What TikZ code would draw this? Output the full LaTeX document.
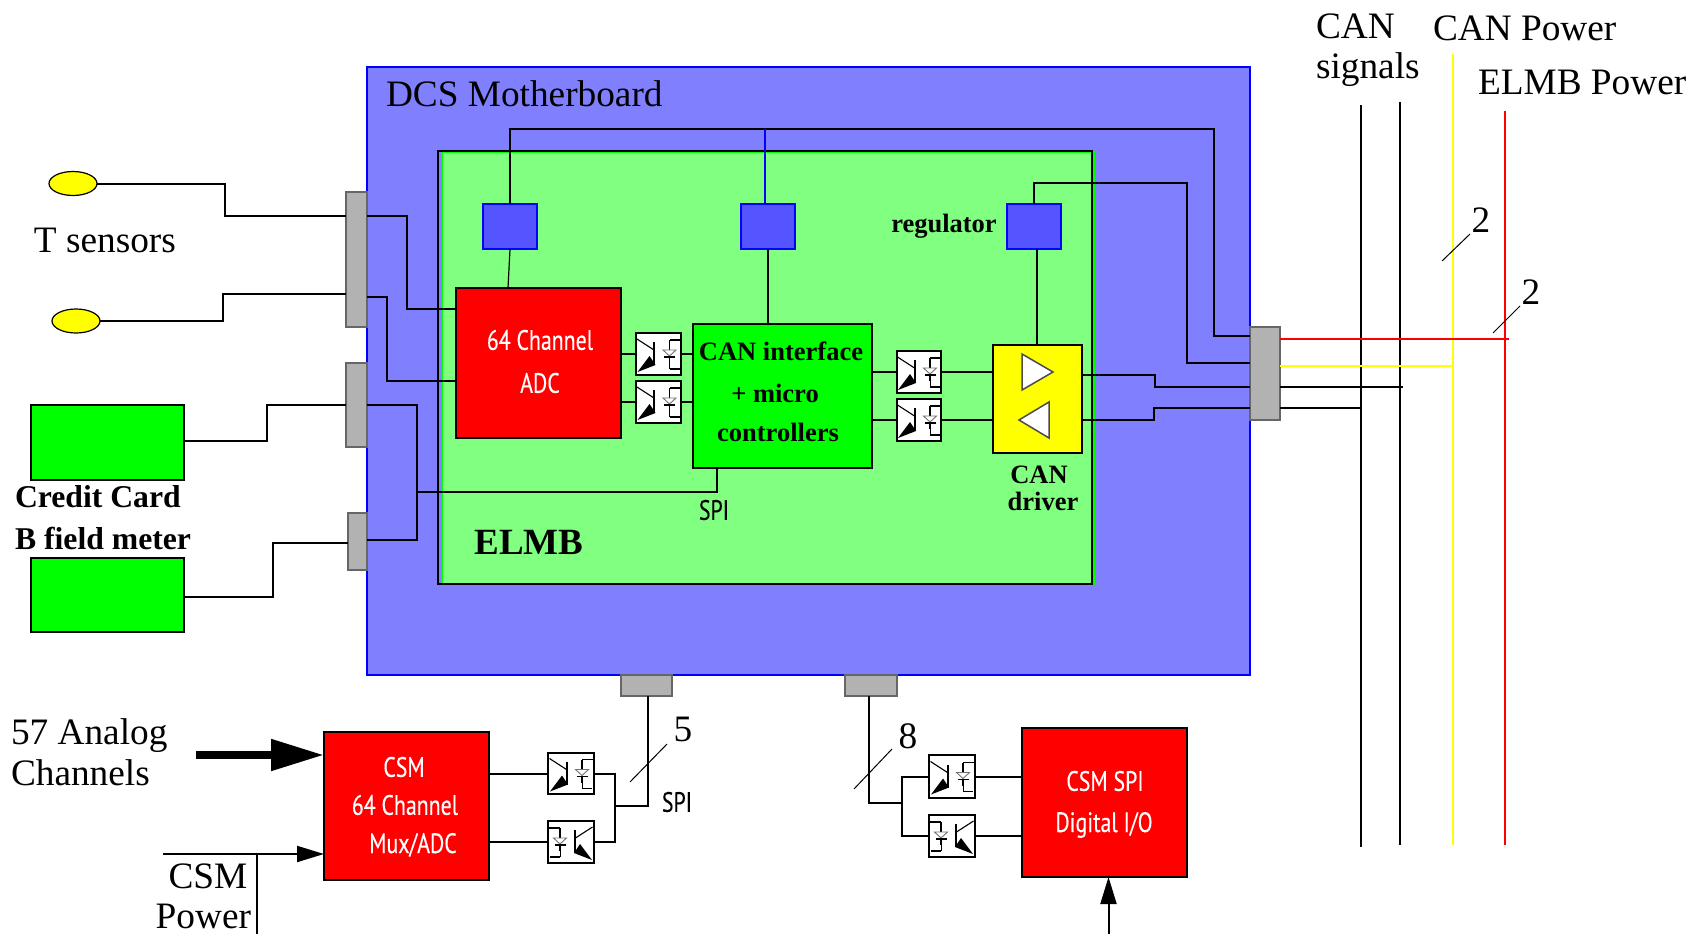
\documentclass[tikz,border=0pt]{standalone}
\usepackage{fontspec}
\setmainfont{Liberation Serif}
\newfontfamily\cond[FakeStretch=0.78,FakeBold=0.25]{PT Sans}
\usetikzlibrary{arrows.meta,shapes.geometric}
\definecolor{mbfill}{RGB}{128,128,255}
\definecolor{regfill}{RGB}{85,85,255}
\definecolor{elmbfill}{RGB}{128,255,128}
\definecolor{fullgreen}{RGB}{0,255,0}
\definecolor{fullyellow}{RGB}{255,255,0}
\definecolor{conn}{RGB}{178,178,178}
\definecolor{connb}{RGB}{102,102,102}
\tikzset{
  every node/.style={inner sep=0pt,outer sep=0pt},
  wire/.style={line width=2pt,black,line join=miter},
  thinw/.style={line width=1.2pt,black},
  connbox/.style={fill=conn,draw=connb,line width=2pt},
  regbox/.style={fill=regfill,draw=blue,line width=2pt},
  redbox/.style={fill=red,draw=black,line width=2pt},
  greenbox/.style={fill=fullgreen,draw=black,line width=1.5pt},
  optobox/.style={fill=white,draw=black,line width=2pt},
  big/.style={font=\fontsize{37.3}{40}\selectfont},
  bold32/.style={font=\fontsize{31.7}{34}\selectfont\bfseries},
  bold26/.style={font=\fontsize{26.5}{30}\selectfont\bfseries},
  condw/.style={font=\fontsize{28}{30}\selectfont\cond,white},
  condb/.style={font=\fontsize{28}{30}\selectfont\cond,black},
  condsm/.style={font=\fontsize{28}{30}\selectfont\cond,white},
}
\newcommand\mybox[6]{%
  \pgfmathsetmacro\bxw{#5-#3}\pgfmathsetmacro\bxh{#6-#4}%
  \pgfmathsetmacro\bxx{(#3+#5)/2}\pgfmathsetmacro\bxy{(#4+#6)/2}%
  \node[#2,rectangle,minimum width=\bxw pt,minimum height=\bxh pt] (#1) at (\bxx,\bxy) {};}
\newcommand\opto[6]{% name, flip(1/-1), x1,y1,x2,y2
  \mybox{#1}{optobox}{#3}{#4}{#5}{#6}
  \begin{scope}[shift={(#1.center)},xscale=#2]
    \draw[line width=1.1pt] (-21.5,-15) -- (-4.5,-4);
    \draw[line width=2pt] (-4.2,-12) -- (-4.2,11);
    \fill[black] (-21,18) -- (-9,2) -- (-3,11) -- cycle;
    \draw[line width=1.2pt] (11,-14) -- (11,-4);
    \draw[line width=1.8pt] (11,2) -- (11,9);
    \draw[line width=0.8pt] (11,9) -- (11,15);
    \draw[line width=1.3pt] (11,-14) -- (22,-14);
    \draw[line width=1.3pt] (11,15) -- (21,15);
    \filldraw[fill=white,draw=black!55,line width=0.9pt] (4.5,-4) -- (17.5,-4) -- (11,2) -- cycle;
    \draw[line width=1.6pt] (5.5,3) -- (16.5,3);
  \end{scope}}
\begin{document}
\begin{tikzpicture}[x=1pt,y=-1pt]
\useasboundingbox (0,0) rectangle (1698,934);
% main boards
\mybox{mb}{fill=mbfill,draw=blue,line width=2pt}{367}{67}{1250}{675}
\mybox{elmbg}{fill=elmbfill,draw=fullgreen,line width=2pt}{442}{152}{1094}{584}
\mybox{elmb}{draw=black,line width=2pt}{438}{151}{1092}{584}
% boxes
\mybox{c1}{connbox}{346}{192}{367}{327}
\mybox{c2}{connbox}{346}{363}{367}{447}
\mybox{c3}{connbox}{348}{513}{367}{570}
\mybox{cr}{connbox}{1250}{327}{1280}{420}
\mybox{cb1}{connbox}{621}{675}{672}{696}
\mybox{cb2}{connbox}{845}{675}{897}{696}
\mybox{adc}{redbox}{456}{288}{621}{438}
\mybox{can}{fill=fullgreen,draw=black,line width=2pt}{693}{324}{872}{468}
\mybox{drv}{fill=fullyellow,draw=black,line width=2pt}{993}{345}{1082}{453}
\mybox{r1}{regbox}{483}{204}{537}{249}
\mybox{r2}{regbox}{741}{204}{795}{249}
\mybox{r3}{regbox}{1007}{204}{1061}{249}
\mybox{cc}{greenbox}{31}{405}{184}{480}
\mybox{bf}{greenbox}{31}{558}{184}{632}
\mybox{csm}{redbox}{324}{732}{489}{880}
\mybox{spi}{redbox}{1022}{728}{1187}{877}
\node[ellipse,fill=fullyellow,draw=black,line width=1.2pt,minimum width=48pt,minimum height=24pt] (s1) at (73,183.5) {};
\node[ellipse,fill=fullyellow,draw=black,line width=1.2pt,minimum width=48pt,minimum height=24pt] (s2) at (76,321) {};
\opto{oa}{1}{636}{333}{681}{375}
\opto{ob}{1}{636}{381}{681}{423}
\opto{oc}{1}{897}{351}{941}{393}
\opto{od}{1}{897}{399}{941}{441}
\opto{oe}{1}{548}{753}{594}{794}
\opto{of}{-1}{548}{821}{594}{863}
\opto{og}{1}{929}{755}{975}{798}
\opto{oh}{-1}{929}{815}{975}{857}
% wires
\draw[wire] (s1.east) -- (225,183.5) -- (225,216) -- (c1.west |- 0,216);
\draw[wire] (s2.east) -- (223,321) -- (223,294) -- (c1.west |- 0,294);
\draw[wire] (c1.east |- 0,216) -- (407,216) -- (407,309) -- (adc.west |- 0,309);
\draw[wire] (c1.east |- 0,297) -- (387,297) -- (387,381) -- (adc.west |- 0,381);
\draw[wire] (cc.east |- 0,441) -- (267,441) -- (267,405) -- (c2.west |- 0,405);
\draw[wire] (bf.east |- 0,597) -- (273,597) -- (273,543) -- (c3.west |- 0,543);
\draw[wire] (c2.east |- 0,405) -- (417,405) -- (417,492) -- (717,492) -- (717,468);
\draw[wire] (c3.east |- 0,540) -- (417,540) -- (417,492);
\draw[wire] (r1.north) -- (510,129) -- (1214,129) -- (1214,336) -- (cr.west |- 0,336);
\draw[line width=1.5pt,blue] (765,129) -- (r2.north -| 765,0);
\draw[wire] (r3.north -| 1034,0) -- (1034,183) -- (1187,183) -- (1187,363) -- (cr.west |- 0,363);
\draw[thinw] (r1.south) -- (508,288);
\draw[wire] (r2.south -| 768,0) -- (can.north -| 768,0);
\draw[wire] (r3.south -| 1037,0) -- (drv.north -| 1037,0);
\draw[wire] (adc.east |- oa.west) -- (oa.west);
\draw[wire] (adc.east |- ob.west) -- (ob.west);
\draw[wire] (oa.east) -- (can.west |- oa.east);
\draw[wire] (ob.east) -- (can.west |- ob.east);
\draw[wire] (can.east |- oc.west) -- (oc.west);
\draw[wire] (can.east |- od.west) -- (od.west);
\draw[wire] (oc.east) -- (drv.west |- oc.east);
\draw[wire] (od.east) -- (drv.west |- od.east);
\draw[wire] (drv.east |- 0,375) -- (1155,375) -- (1155,387) -- (cr.west |- 0,387);
\draw[wire] (drv.east |- 0,420) -- (1154,420) -- (1154,408) -- (cr.west |- 0,408);
% buses
\coordinate (b1t) at (1361,105); \coordinate (b1b) at (1361,847);
\coordinate (b2t) at (1400,102); \coordinate (b2b) at (1400,845);
\coordinate (b3t) at (1453,54);  \coordinate (b3b) at (1453,845);
\coordinate (b4t) at (1505,111); \coordinate (b4b) at (1505,845);
\draw[wire] (b1t) -- (b1b);
\draw[wire] (b2t) -- (b2b);
\draw[line width=2pt,fullyellow] (b3t) -- (b3b);
\draw[line width=2pt,red] (b4t) -- (b4b);
\draw[wire] (cr.east |- 0,387) -- (1403,387);
\draw[wire] (cr.east |- 0,408) -- (1361,408);
\draw[line width=2pt,fullyellow] (cr.east |- 0,366) -- (1453,366);
\draw[line width=2pt,red] (cr.east |- 0,339) -- (1509,339);
% bottom wiring
\draw[wire] (csm.east |- oe.west) -- (oe.west);
\draw[wire] (csm.east |- of.west) -- (of.west);
\draw[wire] (oe.east) -- (615,773.5) -- (615,842) -- (of.east);
\draw[wire] (615,806) -- (648,806) -- (cb1.south -| 648,0);
\draw[wire] (cb2.south -| 869,0) -- (869,803) -- (902,803);
\draw[wire] (og.west) -- (902,776.5) -- (902,836) -- (oh.west);
\draw[wire] (og.east) -- (spi.west |- og.east);
\draw[wire] (oh.east) -- (spi.west |- oh.east);
% arrows
\coordinate (an) at (196,755);
\draw[line width=8pt,-{Triangle[length=53pt,width=30pt]}] (an) -- (csm.west |- an);
\coordinate (pw) at (163,854);
\draw[line width=2pt,-{Triangle[length=27pt,width=16pt]}] (pw) -- (csm.west |- pw);
\coordinate (pv) at (257,934);
\draw[line width=2pt] (pv) -- (257,854);
\coordinate (dg) at (1108.5,934);
\draw[line width=2pt,-{Triangle[length=27pt,width=16pt]}] (dg) -- (dg |- spi.south);
% slashes
\draw[line width=1pt] (1442,261) -- (1470,234);
\draw[line width=1pt] (1493,333) -- (1520,306);
\draw[line width=1pt] (630,782) -- (667,744);
\draw[line width=1pt] (854,789) -- (892,749);
% driver triangles
\filldraw[fill=white,draw=black!70,line width=1.5pt] (1022,354) -- (1022,390) -- (1053,372) -- cycle;
\filldraw[fill=white,draw=black!70,line width=1.5pt] (1049,402) -- (1049,438) -- (1019,420) -- cycle;
% texts
\node[big,anchor=west] (t1) at (386,94) {DCS Motherboard};
\node[big,anchor=west] (t2) at (34,240) {T sensors};
\node[big,anchor=west] (t3) at (1316,26) {CAN};
\node[big,anchor=west] (t4) at (1316,70) {signals};
\node[big,anchor=west] (t5) at (1433,28) {CAN Power};
\node[big,anchor=west] (t6) at (1478,82) {ELMB Power};
\node[big,anchor=west] (t7) at (11,736) {57 Analog};
\node[big,anchor=west] (t8) at (11,773) {Channels};
\node[big] (t9) at (208,876) {CSM};
\node[big,anchor=east] (t10) at (251,916) {Power};
\node[big] (t11) at (1481,220) {2};
\node[big] (t12) at (1531,292) {2};
\node[big] (t13) at (683,729) {5};
\node[big] (t14) at (908,736) {8};
\node[bold32,anchor=west] (t15) at (15,497) {Credit Card};
\node[bold32,anchor=west] (t16) at (15,538) {B field meter};
\node[font=\fontsize{37}{40}\selectfont\bfseries] (t17) at (529,542.5) {ELMB};
\node[bold26] (t18) at (944,226) {regulator};
\node[bold26] (t19) at (781,351) {CAN interface};
\node[bold26] (t20) at (775,393) {+ micro};
\node[bold26] (t21) at (778,432) {controllers};
\node[bold26] (t22) at (1039,475) {CAN};
\node[bold26] (t23) at (1043,501) {driver};
\node[condw] (t24) at (540,340) {64 Channel};
\node[condw] (t25) at (540,383) {ADC};
\node[condb] (t26) at (714,510) {SPI};
\node[condb] (t27) at (677,802) {SPI};
\node[condsm] (t28) at (404,767) {CSM};
\node[condsm] (t29) at (405,805) {64 Channel};
\node[condsm] (t30) at (413,845) {Mux/ADC};
\node[condsm] (t31) at (1105,781) {CSM SPI};
\node[condsm] (t32) at (1104,825) {Digital I/O};
\end{tikzpicture}
\end{document}
